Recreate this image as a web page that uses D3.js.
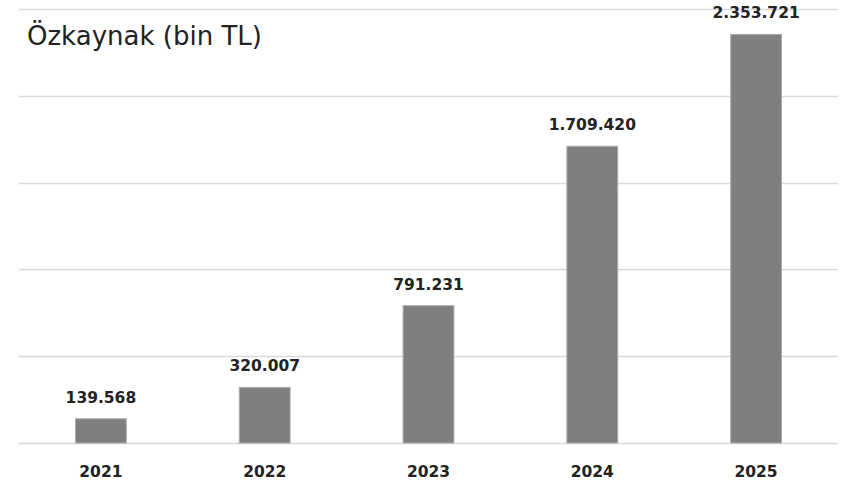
<!DOCTYPE html>
<html>
<head>
<meta charset="utf-8">
<script src="https://cdn.jsdelivr.net/npm/d3@7"></script>
<style>
  html, body { margin: 0; padding: 0; background: #fff; }
  svg { display: block; }
</style>
</head>
<body>
<svg id="chart" width="843" height="486"></svg>
<script>
const title = "Özkaynak (bin TL)";
const categories = ["2021", "2022", "2023", "2024", "2025"];
const values = [139568, 320007, 791231, 1709420, 2353721];
const labels = ["139.568", "320.007", "791.231", "1.709.420", "2.353.721"];
const gridTicks = [0, 500000, 1000000, 1500000, 2000000, 2500000];

(function () {
const svg = d3.select("#chart");
const mLeft = 19, mRight = 838, mTop = 9, mBottom = 443;

const x = d3.scaleBand().domain(categories).range([mLeft, mRight]).paddingInner(0.69).paddingOuter(0.345);
const y = d3.scaleLinear().domain([0, 2500000]).range([mBottom, mTop]);

svg.append("g").selectAll("line").data(gridTicks).join("line")
  .attr("x1", mLeft).attr("x2", mRight)
  .attr("y1", d => Math.round(y(d)) + 0.5).attr("y2", d => Math.round(y(d)) + 0.5)
  .attr("stroke", "#d9d9d9").attr("stroke-width", 1.6);

svg.append("g").selectAll("rect").data(values).join("rect")
  .attr("x", (d, i) => x(categories[i]))
  .attr("width", x.bandwidth())
  .attr("y", d => y(d))
  .attr("height", d => mBottom - y(d))
  .attr("fill", "#7f7f7f")
  .attr("stroke", "#a9a9a9").attr("stroke-width", 1);

svg.append("g").selectAll("text").data(values).join("text")
  .attr("x", (d, i) => x(categories[i]) + x.bandwidth() / 2)
  .attr("y", d => y(d) - 16)
  .attr("text-anchor", "middle")
  .attr("font-family", "DejaVu Sans")
  .attr("font-weight", "bold")
  .attr("font-size", 15.5)
  .attr("fill", "#222")
  .text((d, i) => labels[i]);

svg.append("g").selectAll("text").data(categories).join("text")
  .attr("x", d => x(d) + x.bandwidth() / 2)
  .attr("y", 477)
  .attr("text-anchor", "middle")
  .attr("font-family", "DejaVu Sans")
  .attr("font-weight", "bold")
  .attr("font-size", 15.5)
  .attr("fill", "#222")
  .text(d => d);

svg.append("text")
  .attr("x", 27).attr("y", 45)
  .attr("font-family", "DejaVu Sans")
  .attr("font-size", 26)
  .attr("fill", "#222")
  .text(title);
})();
</script>
</body>
</html>
